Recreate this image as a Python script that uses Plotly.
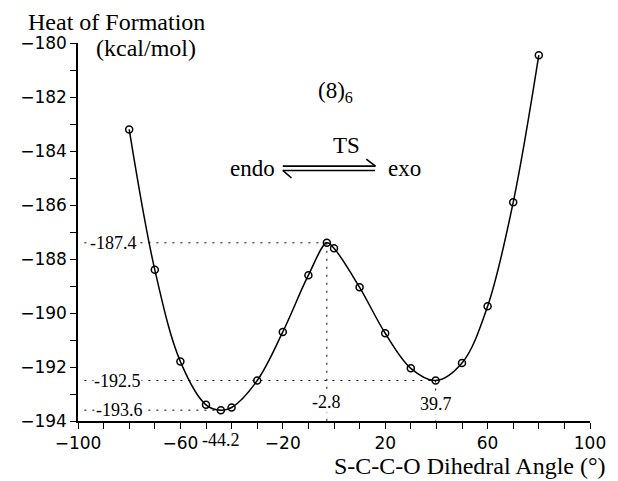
import plotly.graph_objects as go

# Data
angles = [-80, -70, -60, -50, -44.2, -40, -30, -20, -10, -2.8, 0, 10, 20, 30, 39.7, 50, 60, 70, 80]
energies = [-183.2, -188.4, -191.8, -193.4, -193.6, -193.5, -192.5, -190.7, -188.6, -187.4,
            -187.6, -189.05, -190.75, -192.05, -192.5, -191.85, -189.75, -185.9, -180.45]

x_tickvals = [-100, -60, -20, 20, 60, 100]
y_tickvals = [-194, -192, -190, -188, -186, -184, -182, -180]

# critical points: (angle, energy)
endo_min = (-44.2, -193.6)
ts_max = (-2.8, -187.4)
exo_min = (39.7, -192.5)

XMIN, XMAX = -100, 100
YMIN, YMAX = -194, -180

SERIF = "Liberation Serif, Times New Roman, serif"
SANS = "DejaVu Sans, sans-serif"


def px_x(p):  # reference pixel -> paper fraction
    return (p - 70) / 530


def px_y(p):
    return (421 - p) / 378


fig = go.Figure()

dot = dict(color="black", width=1, dash="2px,6px")
# horizontal guides
for (ax, ay) in (endo_min, ts_max, exo_min):
    fig.add_trace(go.Scatter(x=[XMIN + 2.5, ax], y=[ay, ay], mode="lines", line=dot,
                             hoverinfo="skip", showlegend=False))
# vertical guides
for (ax, ay) in (ts_max, exo_min):
    fig.add_trace(go.Scatter(x=[ax, ax], y=[ay, YMIN], mode="lines", line=dot,
                             hoverinfo="skip", showlegend=False))

# curve
fig.add_trace(go.Scatter(x=angles, y=energies, mode="lines",
                         line=dict(color="black", width=1.5, shape="spline", smoothing=1.0),
                         hoverinfo="skip", showlegend=False))
# points
fig.add_trace(go.Scatter(x=angles, y=energies, mode="markers",
                         marker=dict(symbol="circle-open", size=7, color="black",
                                     line=dict(color="black", width=1.5)),
                         showlegend=False))

lab_font = dict(family=SERIF, size=18, color="black")
ann = []
# value labels on guides
for (ax, ay), lx in ((ts_max, -86.3), (exo_min, -84.4), (endo_min, -83.6)):
    ann.append(dict(x=lx, y=ay, xref="x", yref="y", text=f"{ay:.1f}", showarrow=False,
                    font=lab_font, bgcolor="white", borderpad=0))
ann.append(dict(x=ts_max[0], y=-193.28, xref="x", yref="y", text=f"{ts_max[0]:.1f}",
                showarrow=False, font=lab_font, bgcolor="white", borderpad=0))
ann.append(dict(x=exo_min[0], y=-193.36, xref="x", yref="y", text=f"{exo_min[0]:.1f}",
                showarrow=False, font=lab_font, bgcolor="white", borderpad=0))
ann.append(dict(x=endo_min[0], y=0, xref="x", yref="paper", yanchor="top", yshift=-7,
                text=f"{endo_min[0]:.1f}", showarrow=False, font=lab_font))

title_font = dict(family=SERIF, size=24, color="black")
# titles
ann.append(dict(x=px_x(110), y=px_y(22), xref="paper", yref="paper", xanchor="center",
                yanchor="middle", text="Heat of Formation", showarrow=False, font=title_font))
ann.append(dict(x=px_x(140), y=px_y(48), xref="paper", yref="paper", xanchor="center",
                yanchor="middle", text="(kcal/mol)", showarrow=False, font=title_font))
ann.append(dict(x=px_x(619), y=px_y(466), xref="paper", yref="paper", xanchor="right",
                yanchor="middle", text="S-C-C-O Dihedral Angle (°)", showarrow=False,
                font=title_font))

# scheme text
ann.append(dict(x=0.5, y=-181.8, xref="x", yref="y",
                text="(8)<sub><span style='color:black'>6</span></sub>", showarrow=False,
                font=dict(family=SERIF, size=23, color="black")))
ann.append(dict(x=4.9, y=-183.8, xref="x", yref="y", text="TS", showarrow=False,
                font=dict(family=SERIF, size=23, color="black")))
ann.append(dict(x=-31.7, y=-184.65, xref="x", yref="y", text="endo", showarrow=False,
                font=dict(family=SERIF, size=23, color="black")))
ann.append(dict(x=27.5, y=-184.65, xref="x", yref="y", text="exo", showarrow=False,
                font=dict(family=SERIF, size=23, color="black")))

fig.update_layout(annotations=ann)

# equilibrium harpoons
hl = dict(color="black", width=1.6)
shapes = [
    dict(type="line", xref="x", yref="y", x0=-20, x1=16.2, y0=-184.56, y1=-184.56, line=hl),
    dict(type="line", xref="x", yref="y", x0=16.2, x1=12.6, y0=-184.56, y1=-184.30, line=hl),
    dict(type="line", xref="x", yref="y", x0=-20, x1=16.0, y0=-184.72, y1=-184.72, line=hl),
    dict(type="line", xref="x", yref="y", x0=-20, x1=-16.6, y0=-184.72, y1=-185.0, line=hl),
]
fig.update_layout(shapes=shapes)

axis_common = dict(showgrid=False, zeroline=False, showline=True, linecolor="black", linewidth=1.5,
                   ticks="outside", ticklen=6, tickwidth=1.2, tickcolor="black",
                   tickfont=dict(family=SANS, size=17, color="black"))
fig.update_xaxes(range=[XMIN, XMAX], tickvals=x_tickvals,
                 ticktext=[str(v).replace("-", "\u2212") for v in x_tickvals],
                 minor=dict(dtick=10, tick0=0, ticks="outside", ticklen=6, tickwidth=1.2,
                            tickcolor="black"),
                 **axis_common)
fig.update_yaxes(range=[YMIN, YMAX], tickvals=y_tickvals,
                 ticktext=[str(v).replace("-", "\u2212") for v in y_tickvals],
                 minor=dict(dtick=1, tick0=0, ticks="outside", ticklen=6, tickwidth=1.2,
                            tickcolor="black"),
                 **axis_common)

# page body has an 8px default margin, so the figure is 8px smaller than the window
fig.update_layout(width=610, height=473, margin=dict(l=62, r=18, t=35, b=60),
                  plot_bgcolor="white", paper_bgcolor="white", showlegend=False)

fig.write_html("out.html")
